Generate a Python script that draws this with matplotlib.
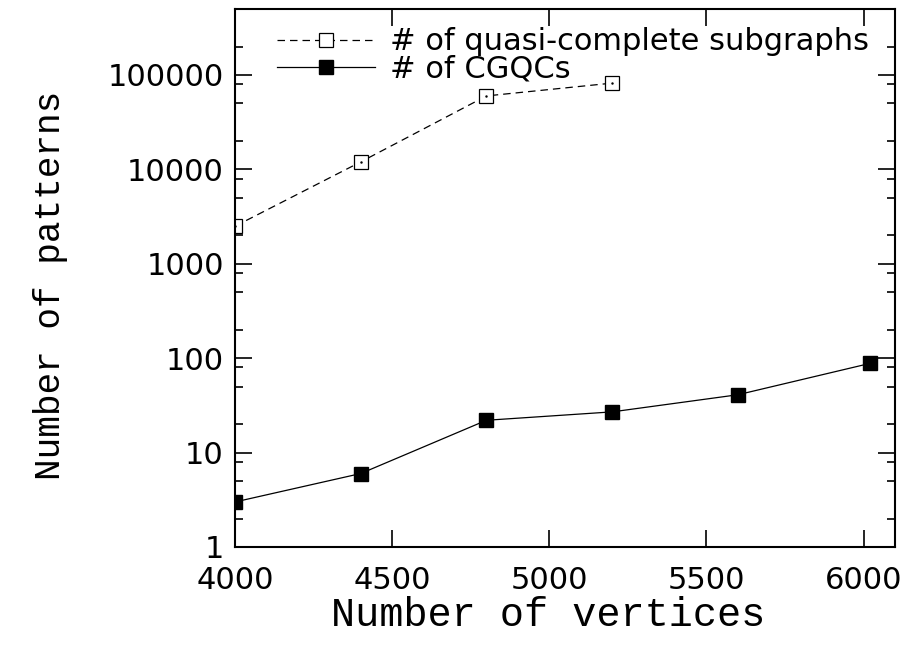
import matplotlib
matplotlib.use("Agg")
import matplotlib.pyplot as plt
from matplotlib.ticker import FixedLocator, FixedFormatter, NullFormatter

# Pattern counts versus graph size
vertices_quasi = [4000, 4400, 4800, 5200]
quasi_complete = [2500, 12000, 60000, 82000]

vertices_cgqc = [4000, 4400, 4800, 5200, 5600, 6020]
cgqc = [3, 6, 22, 27, 41, 88]

x_ticks = [4000, 4500, 5000, 5500, 6000]
x_tick_labels = ["4000", "4500", "5000", "5500", "6000"]
y_ticks = [1, 10, 100, 1000, 10000, 100000]
y_tick_labels = ["1", "10", "100", "1000", "10000", "100000"]

sans = ["DejaVu Sans"]
mono = ["Liberation Mono", "DejaVu Sans Mono"]

fig = plt.figure(figsize=(9.18, 6.51), dpi=100)
ax = fig.add_axes([235 / 918, 104 / 651, 660 / 918, 538 / 651])

ax.plot(vertices_quasi, quasi_complete, color="black", linestyle=(0, (6, 4)),
        linewidth=0.9, marker="s", markersize=10, markerfacecolor="white",
        markeredgecolor="black", markeredgewidth=0.9,
        label="# of quasi-complete subgraphs")
ax.plot(vertices_quasi, quasi_complete, linestyle="none", marker=".",
        markersize=1.5, color="black")
ax.plot(vertices_cgqc, cgqc, color="black", linestyle="-", linewidth=0.9,
        marker="s", markersize=10, markerfacecolor="black",
        markeredgecolor="black", label="# of CGQCs")

ax.set_yscale("log")
ax.set_xlim(4000, 6100)
ax.set_ylim(1, 5e5)

ax.xaxis.set_major_locator(FixedLocator(x_ticks))
ax.xaxis.set_major_formatter(FixedFormatter(x_tick_labels))
ax.yaxis.set_major_locator(FixedLocator(y_ticks))
ax.yaxis.set_major_formatter(FixedFormatter(y_tick_labels))
minor = [m * 10 ** k for k in range(0, 6) for m in (2, 5, 8)]
ax.yaxis.set_minor_locator(FixedLocator(minor))
ax.yaxis.set_minor_formatter(NullFormatter())
ax.xaxis.set_minor_locator(FixedLocator([]))

ax.tick_params(axis="both", which="major", direction="in", length=12,
               width=1.2, top=True, right=True, labelsize=22)
ax.tick_params(axis="x", which="major", pad=14)
ax.tick_params(axis="y", which="major", pad=8)
ax.tick_params(axis="y", which="minor", direction="in", length=6,
               width=1.2, left=True, right=True)
for lbl in ax.get_xticklabels() + ax.get_yticklabels():
    lbl.set_fontfamily(sans)

for sp in ax.spines.values():
    sp.set_linewidth(1.5)

ax.set_xlabel("Number of vertices", fontsize=29, family=mono)
ax.xaxis.set_label_coords(313 / 660, -68 / 538)
ax.xaxis.label.set_verticalalignment("center")
ax.set_ylabel("Number of patterns", fontsize=26, family=mono)
ax.yaxis.set_label_coords(-185 / 660, 262 / 538)
ax.yaxis.label.set_verticalalignment("center")

leg = ax.legend(loc="upper left", bbox_to_anchor=(0.0636, 0.966), frameon=False,
                prop={"family": sans, "size": 22}, handlelength=3.2,
                handletextpad=0.5, labelspacing=-0.05, borderaxespad=0.0,
                borderpad=0.0)

fig.savefig("out.png", dpi=100)
